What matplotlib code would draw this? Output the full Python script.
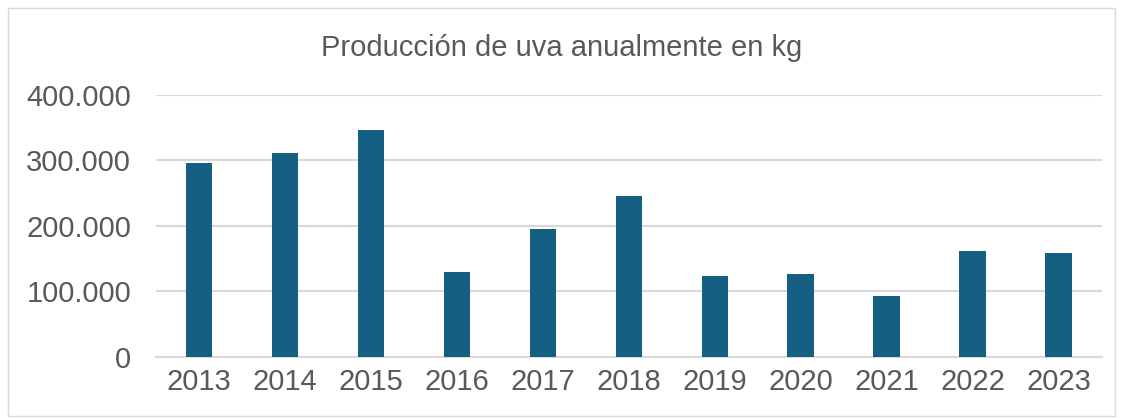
import matplotlib.pyplot as plt
from matplotlib.ticker import FuncFormatter
from matplotlib.patches import Rectangle

plt.rcParams['font.family'] = ['Liberation Sans', 'DejaVu Sans']

years = ['2013', '2014', '2015', '2016', '2017', '2018',
         '2019', '2020', '2021', '2022', '2023']
kg = [296000, 311000, 346000, 130000, 195000, 245000,
      124000, 127000, 93000, 162000, 159000]

fig = plt.figure(figsize=(11.23, 4.18), dpi=100)
ax = fig.add_axes([0.139, 0.146, 0.842, 0.627])

# outer chart border
fig.patches.append(Rectangle((0.007, 0.005), 0.986, 0.976, transform=fig.transFigure,
                             fill=False, edgecolor='#D9D9D9', linewidth=1))

ax.bar(years, kg, width=0.31, color='#156082', zorder=3)

ax.set_ylim(0, 400000)
ax.set_yticks([0, 100000, 200000, 300000, 400000])
ax.yaxis.set_major_formatter(FuncFormatter(lambda v, p: f'{int(v):,}'.replace(',', '.')))
ax.set_xlim(-0.5, len(years) - 0.5)

ax.grid(axis='y', color='#D9D9D9', linewidth=1.5, zorder=0)
for s in ['top', 'right', 'left']:
    ax.spines[s].set_visible(False)
ax.spines['bottom'].set_color('#D9D9D9')
ax.spines['bottom'].set_linewidth(1.5)
ax.tick_params(axis='both', length=0, labelsize=21, colors='#595959', pad=8)
ax.tick_params(axis='y', pad=18)

fig.text(0.5, 0.885, 'Producción de uva anualmente en kg', ha='center', va='center',
         fontsize=21, color='#595959')

fig.savefig('out.png', dpi=100)
